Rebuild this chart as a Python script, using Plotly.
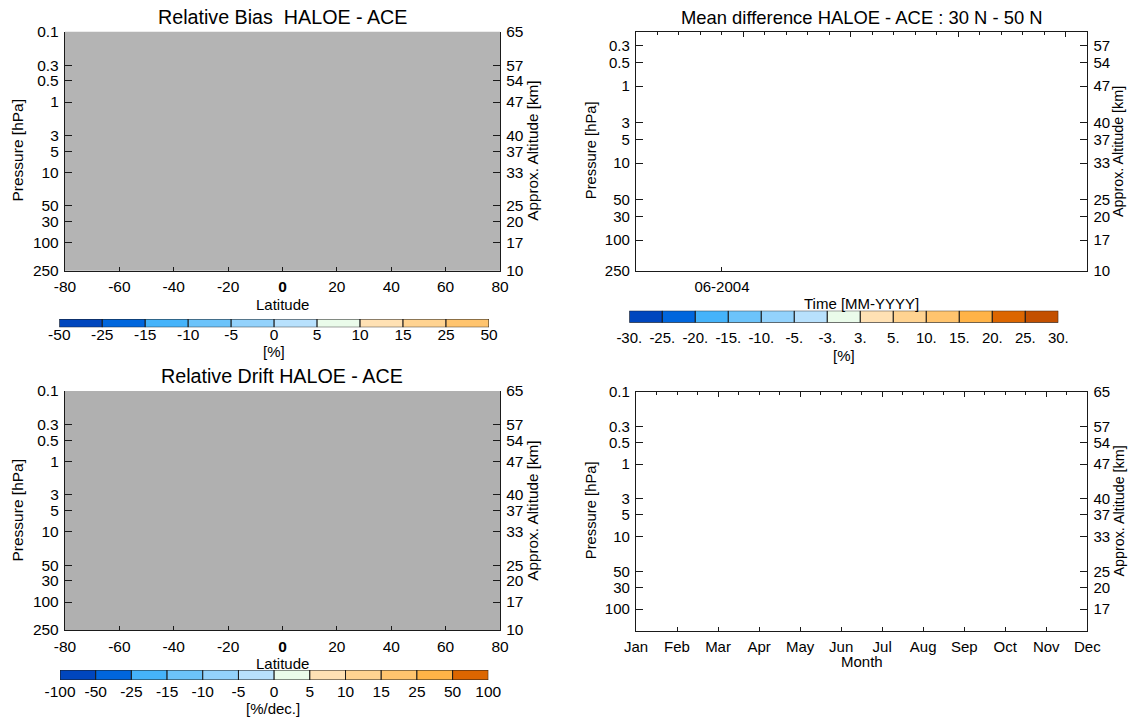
import math
import plotly.graph_objects as go

W, H = 1128, 717
FONT = "Liberation Sans, Arial, Helvetica, sans-serif"
LINE = "#1a1a1a"

# ---------------- data ----------------
pressure_ticks = [0.1, 0.3, 0.5, 1, 3, 5, 10, 30, 50, 100, 250]
pressure_labels = ["0.1", "0.3", "0.5", "1", "3", "5", "10", "50", "30", "100", "250"]
altitude_labels = ["65", "57", "54", "47", "40", "37", "33", "25", "20", "17", "10"]

latitude_ticks = [-80, -60, -40, -20, 0, 20, 40, 60, 80]
latitude_labels = ["-80", "-60", "-40", "-20", "<b>0</b>", "20", "40", "60", "80"]

month_ticks = [1, 2, 3, 4, 5, 6, 7, 8, 9, 10, 11, 12]
month_labels = ["Jan", "Feb", "Mar", "Apr", "May", "Jun", "Jul", "Aug", "Sep", "Oct", "Nov", "Dec"]
month_top_major = [3, 5, 7, 9, 11]

time_span_months = 21          # 02-2004 ... 11-2005
time_ticks = [4]
time_labels = ["06-2004"]
time_top_major = [5, 10, 15, 20]

bias_p_range = (0.1, 250)
diff_p_range = (0.2, 250)
drift_p_range = (0.1, 250)
clim_p_range = (0.1, 200)

bias_levels = ["-50", "-25", "-15", "-10", "-5", "0", "5", "10", "15", "25", "50"]
bias_colors = ["#0046BE", "#0066DD", "#45B3FA", "#6CC3FA", "#93D2FC", "#B8E1FD",
               "#EAFBEA", "#FFE1B4", "#FFD391", "#FFC46E"]

diff_levels = ["-30.", "-25.", "-20.", "-15.", "-10.", "-5.", "-3.", "3.", "5.",
               "10.", "15.", "20.", "25.", "30."]
diff_colors = ["#0046BE", "#0066DD", "#45B3FA", "#6CC3FA", "#93D2FC", "#B8E1FD",
               "#EAFBEA", "#FFE1B4", "#FFD391", "#FFC46E", "#FFB347", "#DC6600", "#C35000"]

drift_levels = ["-100", "-50", "-25", "-15", "-10", "-5", "0", "5", "10", "15", "25", "50", "100"]
drift_colors = ["#0046BE", "#0066DD", "#45B3FA", "#6CC3FA", "#93D2FC", "#B8E1FD",
                "#EAFBEA", "#FFE1B4", "#FFD391", "#FFC46E", "#FFB347", "#DC6600"]

# ---------------- helpers ----------------
def xd(a, b):
    return [a / W, b / W]


def yd(top, bottom):
    return [1 - bottom / H, 1 - top / H]


def prange(pr):
    return [math.log10(pr[1]), math.log10(pr[0])]


def ak(prefix, n):
    return prefix + "axis" + ("" if n == 1 else str(n))


def ar(prefix, n):
    return prefix + ("" if n == 1 else str(n))


common = dict(showgrid=False, zeroline=False, showline=True, linecolor=LINE,
              linewidth=1.3, ticks="inside", tickcolor=LINE, tickwidth=1,
              automargin=False)

fig = go.Figure()
layout = {}
shapes = []
annotations = []


def dummy(xn, yn):
    fig.add_trace(go.Scatter(x=[None], y=[None], xaxis=ar("x", xn), yaxis=ar("y", yn),
                             mode="markers", showlegend=False, hoverinfo="skip"))


def panel(xn, yl, yr, xdom, ydom, prg, fs, xcfg, top=None, gray=None):
    layout[ak("x", xn)] = dict(domain=xdom, anchor=ar("y", yl), tickfont=dict(size=fs),
                               ticklabelstandoff=2, **xcfg, **common)
    layout[ak("y", yl)] = dict(domain=ydom, anchor=ar("x", xn), type="log", autorange=False,
                               range=prange(prg), tickmode="array", tickvals=pressure_ticks,
                               ticktext=pressure_labels, ticklen=7, ticklabelstandoff=2,
                               tickfont=dict(size=fs), **common)
    layout[ak("y", yr)] = dict(overlaying=ar("y", yl), anchor=ar("x", xn), side="right",
                               type="log", autorange=False, range=prange(prg),
                               tickmode="array", tickvals=pressure_ticks,
                               ticktext=altitude_labels, ticklen=7, ticklabelstandoff=2,
                               tickfont=dict(size=fs), **common)
    dummy(xn, yl)
    dummy(xn, yr)
    if top is not None:
        tn, tcfg = top
        layout[ak("x", tn)] = dict(overlaying=ar("x", xn), anchor=ar("y", yl), side="top",
                                   showticklabels=False, **tcfg, **common)
        dummy(tn, yl)
    if gray is not None:
        shapes.append(dict(type="rect", xref=ar("x", xn) + " domain", yref=ar("y", yl) + " domain",
                           x0=0, x1=1, y0=0, y1=1, fillcolor=gray, line=dict(width=0),
                           layer="below"))


def cbar(xn, yn, colors, levels, xdom, ydom, label_y, fs):
    n = len(colors)
    fig.add_trace(go.Bar(x=[i + 0.5 for i in range(n)], y=[1] * n, width=[1] * n, base=0,
                         marker=dict(color=colors, line=dict(color=LINE, width=1)),
                         xaxis=ar("x", xn), yaxis=ar("y", yn), showlegend=False,
                         hoverinfo="skip"))
    layout[ak("x", xn)] = dict(domain=xdom, anchor="free", position=1 - (label_y - 10.5) / H,
                               range=[0, n],
                               tickmode="array", tickvals=list(range(n + 1)), ticktext=levels,
                               showgrid=False, zeroline=False, showline=False, ticks="",
                               tickfont=dict(size=fs), automargin=False)
    layout[ak("y", yn)] = dict(domain=ydom, anchor="free", position=xdom[0], range=[0, 1],
                               visible=False, fixedrange=True, automargin=False)


# ---------------- panels ----------------
lat_cfg = dict(range=[-80, 80], tickmode="array", tickvals=latitude_ticks,
               ticktext=latitude_labels, ticklen=4)

panel(1, 1, 2, xd(65, 500), yd(31.7, 270.7), bias_p_range, 15.5, lat_cfg, gray="#b4b4b4")

time_cfg = dict(range=[0, time_span_months], tickmode="array", tickvals=time_ticks,
                ticktext=time_labels, ticklen=4)
time_top = dict(range=[0, time_span_months], tickmode="array", tickvals=time_top_major,
                ticklen=5, minor=dict(tickmode="linear", tick0=0, dtick=1, ticks="inside",
                                      ticklen=3, tickcolor=LINE))
panel(2, 3, 4, xd(636, 1087.3), yd(32.3, 270.7), diff_p_range, 15, time_cfg,
      top=(3, time_top))

panel(4, 5, 6, xd(65, 500), yd(391, 630), drift_p_range, 15.5, lat_cfg, gray="#b0b0b0")

month_cfg = dict(range=[1, 12], tickmode="array", tickvals=month_ticks,
                 ticktext=month_labels, ticklen=4)
month_top = dict(range=[1, 12], tickmode="array", tickvals=month_top_major, ticklen=5,
                 minor=dict(tickmode="linear", tick0=1, dtick=0.5, ticks="inside",
                            ticklen=3, tickcolor=LINE))
panel(5, 7, 8, xd(636, 1087.3), yd(391.7, 631), clim_p_range, 15, month_cfg,
      top=(6, month_top))

# ---------------- colorbars ----------------
cbar(7, 9, bias_colors, bias_levels, xd(59.3, 489), yd(319, 327.3), 334, 15.5)
cbar(8, 10, diff_colors, diff_levels, xd(629.3, 1058.3), yd(310.7, 322.7), 337.7, 15)
cbar(9, 11, drift_colors, drift_levels, xd(60, 488.3), yd(670, 680), 691, 15.5)


# ---------------- text ----------------
def note(text, x, y, size, angle=0):
    annotations.append(dict(text=text, x=x / W, y=1 - y / H, xref="paper", yref="paper",
                            xanchor="center", yanchor="middle", showarrow=False,
                            textangle=angle, borderpad=0,
                            font=dict(size=size, color="#000")))


note("Relative Bias  HALOE - ACE", 282, 17, 19.7)
note("Relative Drift HALOE - ACE", 282, 376, 19.7)
note("Mean difference HALOE - ACE : 30 N - 50 N", 861.8, 17.3, 18.4)

note("Pressure [hPa]", 17, 150.5, 15.5, -90)
note("Approx. Altitude [km]", 531.7, 151, 15.3, -90)
note("Latitude", 282.5, 304.5, 15)
note("[%]", 274, 351, 15)

note("Pressure [hPa]", 17, 510.5, 15.5, -90)
note("Approx. Altitude [km]", 531.7, 511, 15.3, -90)
note("Latitude", 282.5, 663, 15)
note("[%/dec.]", 273.3, 708.5, 15)

note("Pressure [hPa]", 590.7, 150.5, 14.8, -90)
note("Approx. Altitude [km]", 1118.5, 151.5, 14.3, -90)
note("Time [MM-YYYY]", 861.6, 303.3, 15)
note("[%]", 843.8, 355, 15)

note("Pressure [hPa]", 590.7, 510.5, 14.8, -90)
note("Approx. Altitude [km]", 1118.5, 511, 14.3, -90)
note("Month", 861.6, 661, 15)

fig.update_layout(
    template="none",
    width=W, height=H, margin=dict(l=0, r=0, t=0, b=0, pad=0), autosize=False,
    paper_bgcolor="white", plot_bgcolor="white",
    font=dict(family=FONT, color="#000", size=15),
    showlegend=False, shapes=shapes, annotations=annotations,
    **layout,
)

fig.write_html("out.html", config={"displayModeBar": False},
               post_script="document.body.style.margin='0';document.body.style.overflow='hidden';")
